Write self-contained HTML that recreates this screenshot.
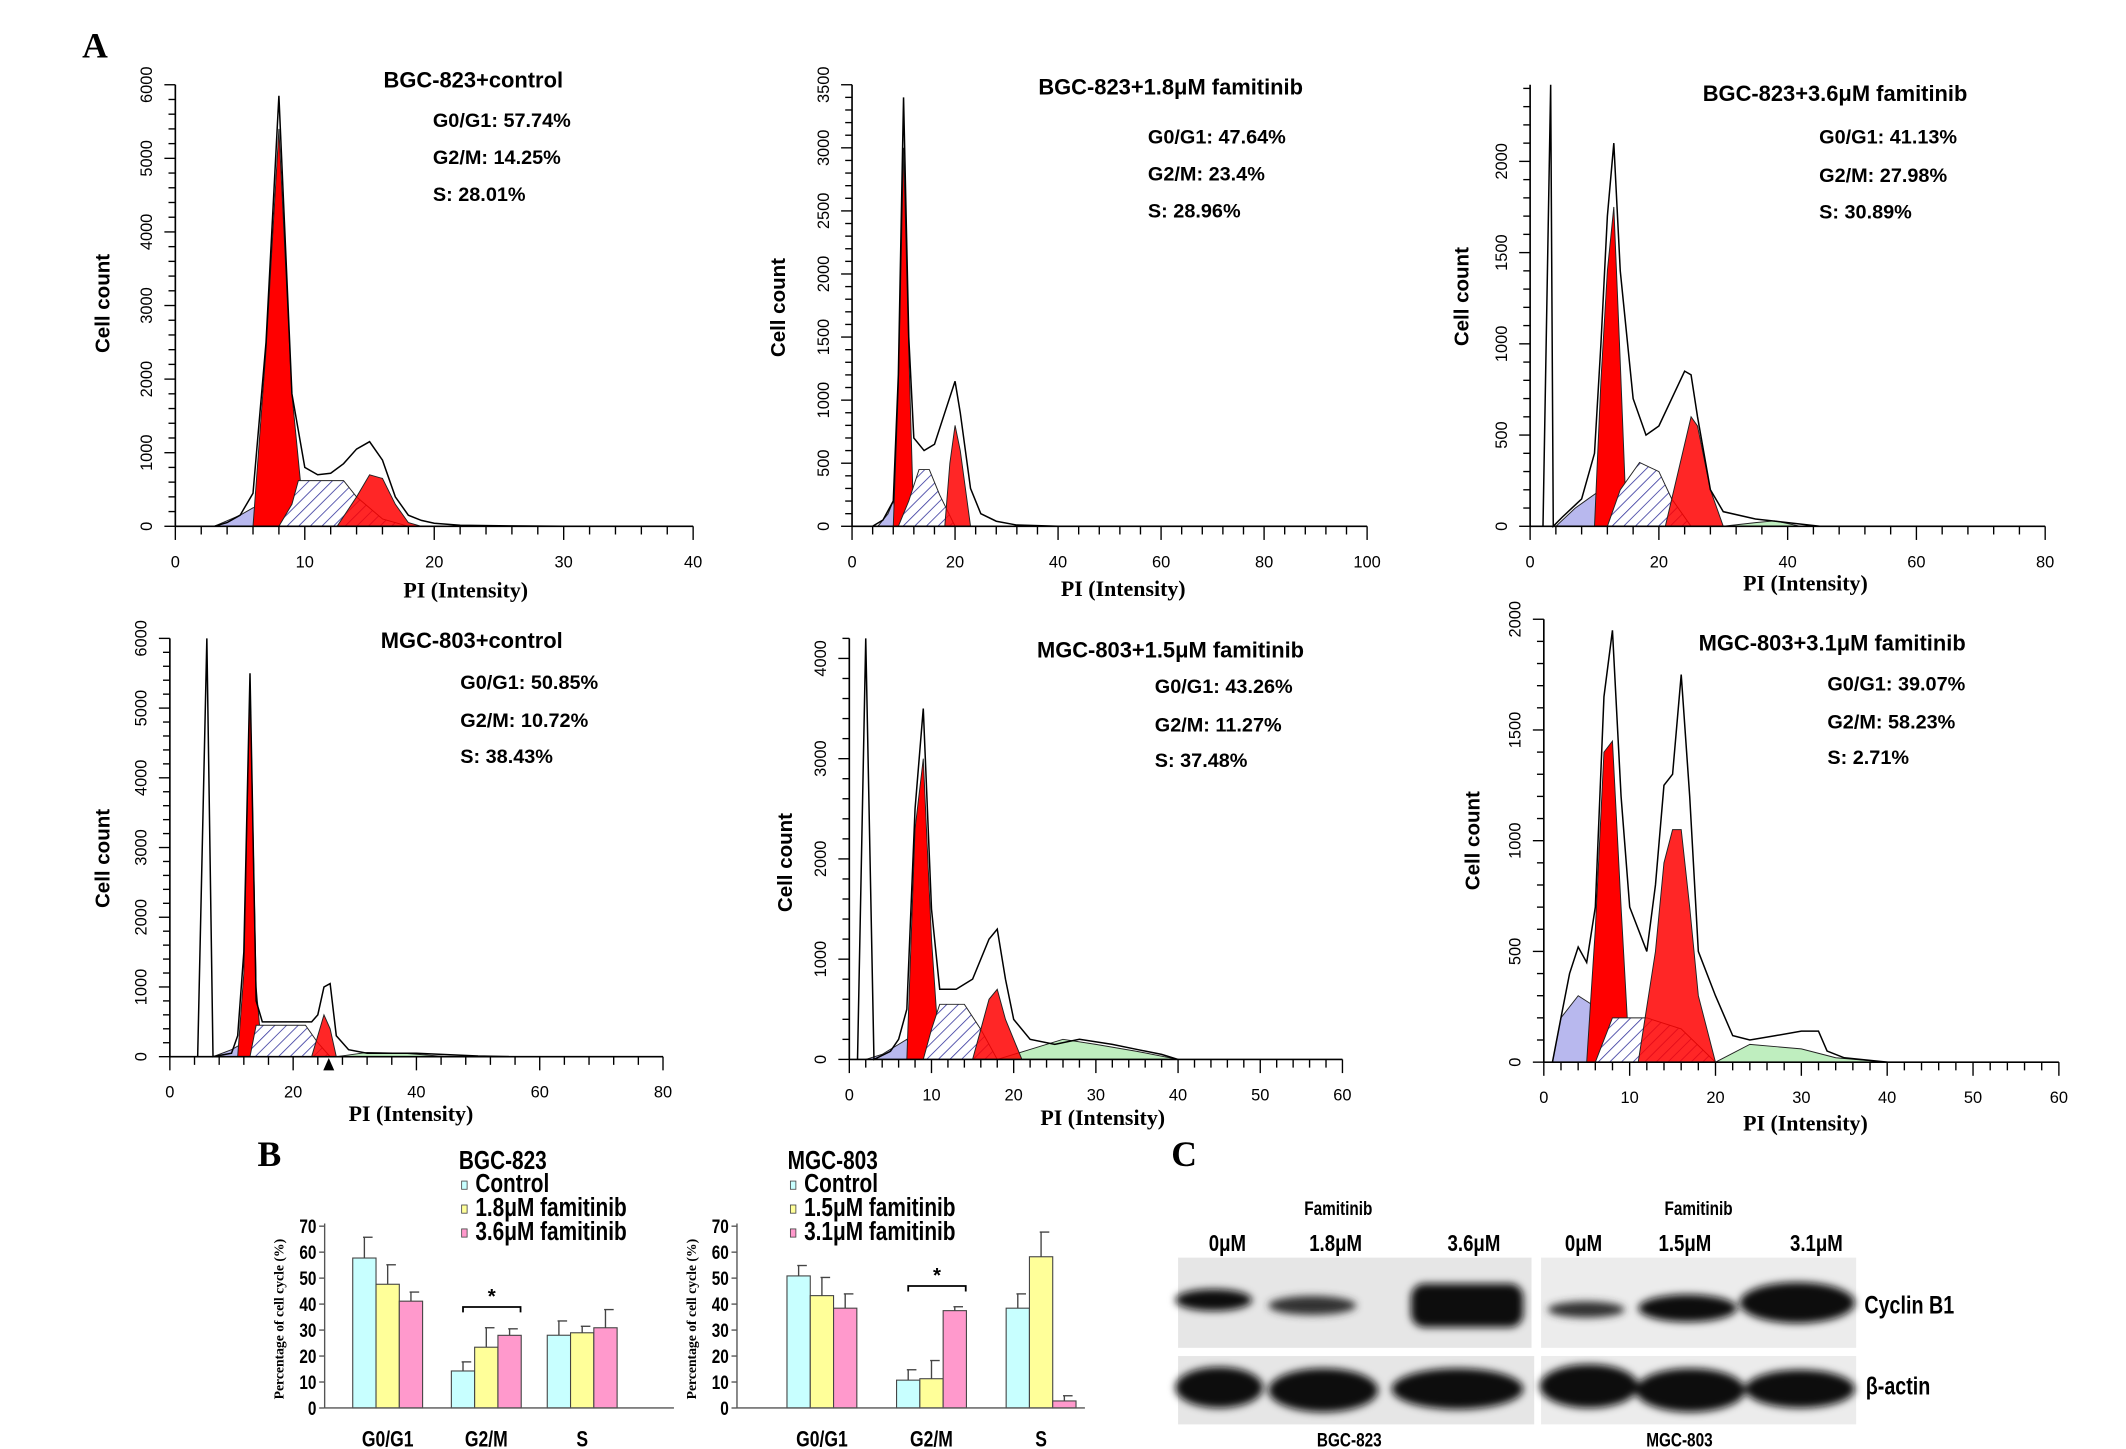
<!DOCTYPE html>
<html><head><meta charset="utf-8">
<style>
html,body{margin:0;padding:0;background:#fff;}
svg{display:block;}
text{font-family:"Liberation Sans",sans-serif;}
.n{font-family:"Liberation Sans Narrow","Liberation Sans",sans-serif;font-weight:bold;}
.serif{font-family:"Liberation Serif",serif;font-weight:bold;}
</style></head>
<body>
<svg id="fig" width="2126" height="1449" viewBox="0 0 1552 1060" preserveAspectRatio="none" xmlns="http://www.w3.org/2000/svg">
<defs>
<pattern id="hatch" width="6" height="6" patternUnits="userSpaceOnUse" patternTransform="rotate(45)">
<rect width="6" height="6" fill="#fff"/><line x1="0" y1="0" x2="0" y2="6" stroke="#3a3aa0" stroke-width="1.2"/>
</pattern>
<filter id="blur"><feGaussianBlur stdDeviation="3"/></filter>
</defs>
<text x="60" y="42" class="serif" font-size="26">A</text>
<text x="188" y="853" class="serif" font-size="26">B</text>
<text x="855" y="853" class="serif" font-size="26">C</text>
<g id="hist"></g>
<g id="bars"></g>
<g id="blot">
  <rect x="860" y="920" width="258" height="66" fill="#e6e6e6"/>
  <rect x="1125" y="920" width="230" height="66" fill="#ececec"/>
  <rect x="860" y="992" width="260" height="50" fill="#e6e6e6"/>
  <rect x="1125" y="992" width="230" height="50" fill="#ececec"/>
  <g filter="url(#blur)" fill="#111">
    <ellipse cx="886" cy="951" rx="28" ry="8"/>
    <ellipse cx="958" cy="955" rx="32" ry="7" fill="#333"/>
    <rect x="1030" y="939" width="82" height="32" rx="10"/>
    <ellipse cx="1158" cy="958" rx="28" ry="6" fill="#333"/>
    <ellipse cx="1232" cy="957" rx="36" ry="10"/>
    <ellipse cx="1312" cy="953" rx="42" ry="15"/>
    <ellipse cx="890" cy="1015" rx="32" ry="15"/>
    <ellipse cx="966" cy="1017" rx="40" ry="16"/>
    <ellipse cx="1064" cy="1016" rx="48" ry="15"/>
    <ellipse cx="1160" cy="1014" rx="36" ry="16"/>
    <ellipse cx="1234" cy="1017" rx="40" ry="16"/>
    <ellipse cx="1314" cy="1016" rx="40" ry="14"/>
  </g>
  <text x="977" y="889" class="n" font-size="14" text-anchor="middle">Famitinib</text>
  <text x="1240" y="889" class="n" font-size="14" text-anchor="middle">Famitinib</text>
  <text x="896" y="915" class="n" font-size="17" text-anchor="middle">0μM</text>
  <text x="975" y="915" class="n" font-size="17" text-anchor="middle">1.8μM</text>
  <text x="1076" y="915" class="n" font-size="17" text-anchor="middle">3.6μM</text>
  <text x="1156" y="915" class="n" font-size="17" text-anchor="middle">0μM</text>
  <text x="1230" y="915" class="n" font-size="17" text-anchor="middle">1.5μM</text>
  <text x="1326" y="915" class="n" font-size="17" text-anchor="middle">3.1μM</text>
  <text x="1361" y="961" class="n" font-size="18">Cyclin B1</text>
  <text x="1362" y="1020" class="n" font-size="18">β-actin</text>
  <text x="985" y="1058" class="n" font-size="14" text-anchor="middle">BGC-823</text>
  <text x="1226" y="1058" class="n" font-size="14" text-anchor="middle">MGC-803</text>
</g>
</svg>
<script>
// ---------- histogram data ----------
const histTitles = ["BGC-823+control","BGC-823+1.8μM famitinib","BGC-823+3.6μM famitinib","MGC-803+control","MGC-803+1.5μM famitinib","MGC-803+3.1μM famitinib"];
const histStats = [["G0/G1: 57.74%","G2/M: 14.25%","S: 28.01%"],["G0/G1: 47.64%","G2/M: 23.4%","S: 28.96%"],["G0/G1: 41.13%","G2/M: 27.98%","S: 30.89%"],["G0/G1: 50.85%","G2/M: 10.72%","S: 38.43%"],["G0/G1: 43.26%","G2/M: 11.27%","S: 37.48%"],["G0/G1: 39.07%","G2/M: 58.23%","S: 2.71%"]];
const histXMax = [40,100,80,80,60,60];
const histYMax = [6000,3500,2420,6000,4200,2000];
const histYTicks = [[0,1000,2000,3000,4000,5000,6000],[0,500,1000,1500,2000,2500,3000,3500],[0,500,1000,1500,2000],[0,1000,2000,3000,4000,5000,6000],[0,1000,2000,3000,4000],[0,500,1000,1500,2000]];
const histXTicks = [[0,10,20,30,40],[0,20,40,60,80,100],[0,20,40,60,80],[0,20,40,60,80],[0,10,20,30,40,50,60],[0,10,20,30,40,50,60]];
const envData = [
 [[3,0],[4,50],[5,150],[6,450],[7,2500],[8,5850],[9,1800],[10,800],[11,700],[12,720],[13,850],[14,1050],[15,1150],[16,900],[17,400],[18,150],[19,80],[20,40],[22,15],[26,5],[30,0]],
 [[4,0],[6,50],[8,200],[9,1200],[10,3400],[11,1500],[12,700],[14,600],[16,650],[18,900],[20,1150],[21,900],[23,300],[25,100],[28,40],[32,10],[40,0]],
 [[2,0],[3.2,2420],[3.6,0],[5,50],[8,150],[10,400],[11,1000],[12,1700],[13,2100],[14,1400],[16,700],[18,500],[20,550],[22,700],[24,850],[25,830],[26,600],[28,200],[30,80],[35,40],[40,20],[45,0]],
 [[4.5,0],[6,6000],[7,0],[10,50],[11,300],[12,1500],[13,5500],[14,800],[15,500],[17,500],[20,500],[23,500],[24,600],[25,1000],[26,1050],[27,300],[29,100],[32,50],[40,50],[50,10],[55,0]],
 [[1,0],[2,4200],[3,0],[5,80],[6,200],[7,500],[8,2500],[9,3500],[10,1500],[11,700],[13,700],[15,800],[17,1200],[18,1300],[19,800],[20,400],[22,200],[25,150],[28,200],[32,150],[35,100],[38,50],[40,0]],
 [[1,0],[2,200],[3,400],[4,520],[5,450],[6,700],[7,1650],[8,1950],[9,1200],[10,700],[12,500],[13,800],[14,1250],[15,1300],[16,1750],[17,1200],[18,500],[20,300],[22,120],[24,100],[27,120],[30,140],[32,140],[33,50],[35,20],[40,0]]
];
const g1Data = [
 [[6,0],[7,2400],[8,5400],[9,1800],[10,0]],
 [[8,0],[9,1100],[10,3000],[11,1400],[12,0]],
 [[10,0],[11,800],[12,1400],[13,1750],[14,900],[15,0]],
 [[11,0],[12,1200],[13,5400],[14,1000],[15,0]],
 [[7,0],[8,2300],[9,3000],[10,1200],[11,0]],
 [[5,0],[6,600],[7,1400],[8,1450],[9,700],[10,0]]
];
const g2Data = [
 [[12.5,0],[14,400],[15,700],[16,650],[17,300],[18,50],[19,0]],
 [[18,0],[19,500],[20,800],[21,600],[23,0]],
 [[21,0],[23,300],[25,600],[26,550],[28,200],[30,0]],
 [[23,0],[24,300],[25,600],[26,400],[27,0]],
 [[15,0],[16,300],[17,600],[18,700],[19,400],[21,0]],
 [[11,0],[13,500],[14,900],[15,1050],[16,1050],[17,700],[18,300],[20,0]]
];
const sData = [
 [[8,0],[9,300],[9.5,620],[13,620],[14,400],[16,100],[18,0]],
 [[9,0],[11,200],[13,450],[15,450],[17,250],[20,0]],
 [[12,0],[14,200],[17,350],[20,300],[22,150],[25,0]],
 [[13,0],[14,450],[22,450],[24,200],[26,0]],
 [[9,0],[10,300],[11,550],[14,550],[16,300],[18,0]],
 [[6,0],[8,200],[12,200],[16,150],[20,0]]
];
const debData = [
 [[3,0],[5,150],[6,250],[7,300],[8,100],[9,0]],
 [[5,0],[7,100],[8,200],[9,0]],
 [[4,0],[7,100],[9,150],[11,200],[12,0]],
 [[7,0],[10,100],[12,200],[13,0]],
 [[2,0],[4,50],[6,150],[7,200],[8,0]],
 [[1,0],[2,200],[4,300],[6,250],[8,0]]
];
const greenData = [[],[],[[30,0],[35,20],[38,30],[42,0]],[[27,0],[32,60],[38,50],[45,0]],[[18,0],[22,100],[26,200],[30,150],[35,80],[40,0]],[[20,0],[24,80],[30,60],[34,20],[40,0]]];

// layout (not data)
const L = [
 {ax:128,x1:506,y0:385,yt:62,tx:280,ty:64,sx:316,sy:[93,120,147],cc:[80,222],pi:[340,437]},
 {ax:622,x1:998,y0:385,yt:62,tx:758,ty:69,sx:838,sy:[105,132,159],cc:[573,225],pi:[820,436]},
 {ax:1117,x1:1493,y0:385,yt:62,tx:1243,ty:74,sx:1328,sy:[105,133,160],cc:[1072,217],pi:[1318,432]},
 {ax:124,x1:484,y0:773,yt:467,tx:278,ty:474,sx:336,sy:[504,532,558],cc:[80,628],pi:[300,820]},
 {ax:620,x1:980,y0:775,yt:467,tx:757,ty:481,sx:843,sy:[507,535,561],cc:[578,631],pi:[805,823]},
 {ax:1127,x1:1503,y0:777,yt:453,tx:1240,ty:476,sx:1334,sy:[505,533,559],cc:[1080,615],pi:[1318,827]}
];
const NS="http://www.w3.org/2000/svg";
function mk(tag,attrs,parent){const e=document.createElementNS(NS,tag);for(const k in attrs)e.setAttribute(k,attrs[k]);parent.appendChild(e);return e;}
const H=document.getElementById('hist');
L.forEach((l,i)=>{
  const g=mk('g',{},H);
  
  
  const sx=v=>l.ax+(l.x1-l.ax)*v/histXMax[i];
  const sy=v=>l.y0-(l.y0-l.yt)*v/histYMax[i];
  const pts=a=>a.map(p=>sx(p[0]).toFixed(1)+','+sy(p[1]).toFixed(1)).join(' ');
  const poly=(a,fill,name,op)=>{if(!a.length)return;const p=mk('polygon',{points:pts(a),fill:fill,stroke:'#222','stroke-width':0.7,'fill-opacity':op},g);};
  poly(debData[i],'#b8b8ee','debris-area',1);
  poly(greenData[i],'#bfeebf','aggregate-area',1);
  poly(g1Data[i],'#ff0000','g1-peak',1);
  poly(sData[i],'url(#hatch)','s-phase-area',1);
  poly(g2Data[i],'#ff0000','g2-peak',0.85);
  const env=mk('polyline',{points:pts(envData[i]),fill:'none',stroke:'#000','stroke-width':1.1},g);
  
  
  const ya=mk('line',{x1:l.ax,y1:l.y0,x2:l.ax,y2:l.yt,stroke:'#000','stroke-width':1.2},g);
  
  
  const xa=mk('line',{x1:l.ax,y1:l.y0,x2:l.x1,y2:l.y0,stroke:'#000','stroke-width':1.2},g);
  
  
  const yt=histYTicks[i], ystep=yt[1]-yt[0];
  for(let v=0;v<=histYMax[i]+1;v+=ystep/5){const big=Math.abs(v/ystep-Math.round(v/ystep))<1e-6;mk('line',{x1:l.ax-(big?8:5),x2:l.ax,y1:sy(v),y2:sy(v),stroke:'#000','stroke-width':1},g);}
  yt.forEach(v=>{const t=mk('text',{x:0,y:0,'font-size':12,'text-anchor':'middle',transform:`translate(${l.ax-17},${sy(v)}) rotate(-90)`},g);t.textContent=v;});
  const xt=histXTicks[i], xstep=xt[1]-xt[0];
  for(let v=0;v<=histXMax[i]+1e-6;v+=xstep/5){const big=Math.abs(v/xstep-Math.round(v/xstep))<1e-6;mk('line',{x1:sx(v),x2:sx(v),y1:l.y0,y2:l.y0+(big?10:6),stroke:'#000','stroke-width':1},g);}
  xt.forEach(v=>{const t=mk('text',{x:sx(v),y:l.y0+30,'font-size':12,'text-anchor':'middle'},g);t.textContent=v;});
  let t=mk('text',{x:l.tx,y:l.ty,'font-size':16,'font-weight':'bold'},g);t.textContent=histTitles[i];
  
  
  histStats[i].forEach((s,k)=>{const u=mk('text',{x:l.sx,y:l.sy[k],'font-size':14.5,'font-weight':'bold'},g);u.textContent=s;});
  t=mk('text',{x:0,y:0,'font-size':15,'font-weight':'bold','text-anchor':'middle',transform:`translate(${l.cc[0]},${l.cc[1]}) rotate(-90)`},g);t.textContent='Cell count';
  
  
  t=mk('text',{x:l.pi[0],y:l.pi[1],'font-size':16,'text-anchor':'middle',class:'serif'},g);t.textContent='PI (Intensity)';
  
  
});
const tri=mk('polygon',{points:'236,783 240,774 244,783',fill:'#000'},H);



// ---------- bar chart data ----------
const barCats = ["G0/G1","G2/M","S"];
const bgcCtrl = [57.74,14.25,28.01], bgcCtrlErr=[8,3.5,5.5];
const bgcLow  = [47.64,23.4,28.96],  bgcLowErr=[7.5,7.5,2.5];
const bgcHigh = [41.13,27.98,30.89], bgcHighErr=[3.5,2.5,7];
const mgcCtrl = [50.85,10.72,38.43], mgcCtrlErr=[4,4,5.5];
const mgcLow  = [43.26,11.27,58.23], mgcLowErr=[7,7,9.5];
const mgcHigh = [38.43,37.48,2.71],  mgcHighErr=[5.5,1.5,2];
const barTicks = [0,10,20,30,40,50,60,70];
const barColors = ["#c8ffff","#ffff99","#ff99cc"];
const charts = [
 {name:"BGC-823",legend:["Control","1.8μM famitinib","3.6μM famitinib"],vals:[bgcCtrl,bgcLow,bgcHigh],errs:[bgcCtrlErr,bgcLowErr,bgcHighErr],ax:237,x1:492,centers:[283,355,425],lx:335},
 {name:"MGC-803",legend:["Control","1.5μM famitinib","3.1μM famitinib"],vals:[mgcCtrl,mgcLow,mgcHigh],errs:[mgcCtrlErr,mgcLowErr,mgcHighErr],ax:538,x1:792,centers:[600,680,760],lx:575}
];
const B=document.getElementById('bars');
const by0=1030, byt=897;
charts.forEach((c,ci)=>{
  const g=mk('g',{},B);
  
  
  const sy=v=>by0-(by0-byt)*v/70;
  barTicks.forEach(v=>{mk('line',{x1:c.ax-4,x2:c.ax,y1:sy(v),y2:sy(v),stroke:'#555'},g);const t=mk('text',{x:c.ax-6,y:sy(v)+5,'font-size':14,'text-anchor':'end',class:'n','font-weight':'normal'},g);t.textContent=v;});
  const bw=17;
  barCats.forEach((cat,k)=>{
    for(let s=0;s<3;s++){
      const x=c.centers[k]+(s-1.5)*bw, v=c.vals[s][k], e=c.errs[s][k];
      const r=mk('rect',{x:x,y:sy(v),width:bw,height:by0-sy(v),fill:barColors[s],stroke:'#444','stroke-width':0.8},g);
      
      
      mk('line',{x1:x+bw/2,x2:x+bw/2,y1:sy(v),y2:sy(v+e),stroke:'#444','stroke-width':1},g);
      mk('line',{x1:x+bw/2-1,x2:x+bw/2+6,y1:sy(v+e),y2:sy(v+e),stroke:'#444','stroke-width':1},g);
    }
    const t=mk('text',{x:c.centers[k],y:1058,'font-size':16,'text-anchor':'middle',class:'n'},g);t.textContent=cat;
    
    
  });
  mk('line',{x1:c.ax,y1:by0,x2:c.ax,y2:byt-2,stroke:'#555','stroke-width':1},g);
  mk('line',{x1:c.ax,y1:by0,x2:c.x1,y2:by0,stroke:'#555','stroke-width':1},g);
  const gx=c.centers[1];
  const top=Math.max(c.vals[1][1]+c.errs[1][1],c.vals[2][1]+c.errs[2][1])+8;
  mk('path',{d:`M${gx-17},${sy(top)+4} V${sy(top)} H${gx+25} V${sy(top)+4}`,fill:'none',stroke:'#000','stroke-width':1.3},g);
  let t=mk('text',{x:gx+4,y:sy(top)-3,'font-size':15,'text-anchor':'middle','font-weight':'bold'},g);t.textContent='*';
  
  
  t=mk('text',{x:0,y:0,'font-size':10,'text-anchor':'middle',class:'serif',transform:`translate(${c.ax-30},${965}) rotate(-90)`},g);t.textContent='Percentage of cell cycle (%)';
  
  
  t=mk('text',{x:c.lx,y:855,'font-size':19,class:'n'},g);t.textContent=c.name;
  
  
  c.legend.forEach((s,k)=>{
    const ly=872+k*17.5;
    mk('rect',{x:c.lx+2,y:ly-8,width:4,height:6,fill:barColors[k],stroke:'#444','stroke-width':0.6},g);
    const u=mk('text',{x:c.lx+12,y:ly,'font-size':19,class:'n'},g);u.textContent=s;
    
    
  });
});
// condense "narrow" text horizontally
document.querySelectorAll('text.n').forEach(t=>{
  const x=+t.getAttribute('x'), y=+t.getAttribute('y');
  t.setAttribute('transform',`translate(${x},${y}) scale(0.8,1) translate(${-x},${-y})`);
});
</script>
</body></html>
